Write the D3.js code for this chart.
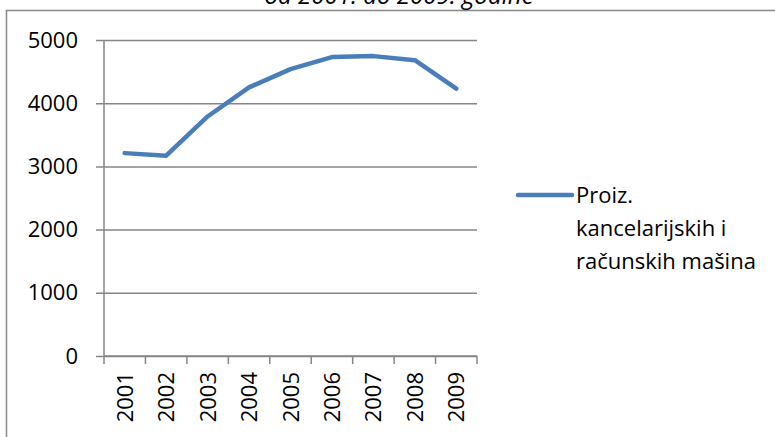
<!DOCTYPE html>
<html>
<head>
<meta charset="UTF-8">
<script src="https://d3js.org/d3.v7.min.js"></script>
<style>
  body { margin: 0; background: white; font-family: "Open Sans", sans-serif; }
  text { font-family: "Open Sans", sans-serif; fill: #000; }
  .tick text { font-size: 22px; }
</style>
</head>
<body>
<svg id="chart"></svg>
<script>
  let years = ['2001', '2002', '2003', '2004', '2005', '2006', '2007', '2008', '2009']
  let values = [3210, 3170, 3790, 4250, 4540, 4730, 4745, 4680, 4230]
  let yTicks = [0, 1000, 2000, 3000, 4000, 5000]
  let seriesName = ['Proiz.', 'kancelarijskih i', 'računskih mašina']
  let title = 'od 2001. do 2009. godine'

  let width = 775, height = 437
  let margin = {top: 40, left: 104, right: 298, bottom: 81}
  let bodyWidth = width - margin.left - margin.right
  let bodyHeight = height - margin.top - margin.bottom

  let svg = d3.select('#chart').attr('width', width).attr('height', height)

  // outer chart frame
  svg.append('rect')
    .attr('x', 6.5).attr('y', 10.5)
    .attr('width', 800).attr('height', 500)
    .attr('fill', 'none').attr('stroke', '#888').attr('stroke-width', 1.5)

  svg.append('text')
    .attr('x', 399).attr('y', 4)
    .attr('text-anchor', 'middle')
    .style('font-style', 'italic').style('font-size', '24px')
    .text(title)

  let x = d3.scaleBand().domain(years).range([0, bodyWidth])
  let y = d3.scaleLinear().domain([0, 5000]).range([bodyHeight, 0])

  let body = svg.append('g').attr('transform', `translate(${margin.left},${margin.top})`)

  // gridlines + y axis
  let yAxis = body.append('g')
    .call(d3.axisLeft(y).tickValues(yTicks).tickFormat(d3.format('d')).tickSize(-bodyWidth).tickPadding(26))
  yAxis.select('.domain').remove()
  yAxis.selectAll('.tick line').attr('stroke', '#868686').attr('stroke-width', 1.5).attr('x1', -8)

  body.append('line')
    .attr('x1', 0).attr('x2', 0).attr('y1', 0).attr('y2', bodyHeight)
    .attr('stroke', '#868686').attr('stroke-width', 1.5)

  // x axis with ticks at band edges
  let xAxis = body.append('g').attr('transform', `translate(0,${bodyHeight})`)
  xAxis.append('line')
    .attr('x1', 0).attr('x2', bodyWidth)
    .attr('stroke', '#868686').attr('stroke-width', 1.5)
  xAxis.selectAll('.xtick')
    .data(years.concat(['end']))
    .enter().append('line')
    .attr('x1', (d, i) => i < years.length ? x(d) : bodyWidth)
    .attr('x2', (d, i) => i < years.length ? x(d) : bodyWidth)
    .attr('y1', 0).attr('y2', 8)
    .attr('stroke', '#868686').attr('stroke-width', 1.5)
  xAxis.selectAll('.xlabel')
    .data(years)
    .enter().append('text')
    .attr('transform', d => `translate(${x(d) + x.bandwidth() / 2 + 8},${16}) rotate(-90)`)
    .attr('text-anchor', 'end')
    .style('font-size', '22px')
    .text(d => d)

  let line = d3.line()
    .x((d, i) => x(years[i]) + x.bandwidth() / 2)
    .y(d => y(d))

  body.append('path')
    .datum(values)
    .attr('d', line)
    .attr('fill', 'none')
    .attr('stroke', '#4a7ebb')
    .attr('stroke-width', 4.5)
    .attr('stroke-linecap', 'round')
    .attr('stroke-linejoin', 'round')

  // legend
  let legend = svg.append('g').attr('transform', 'translate(518,195)')
  legend.append('line')
    .attr('x1', 0).attr('x2', 54)
    .attr('stroke', '#4a7ebb').attr('stroke-width', 4.5).attr('stroke-linecap', 'round')
  legend.selectAll('text')
    .data(seriesName)
    .enter().append('text')
    .attr('x', 58)
    .attr('y', (d, i) => 8 + i * 33)
    .style('font-size', '22px')
    .text(d => d)
</script>
</body>
</html>
